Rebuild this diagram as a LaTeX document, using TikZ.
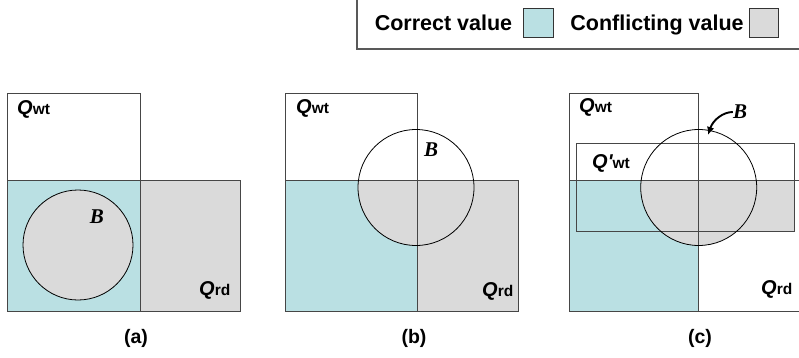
\documentclass[tikz,border=0pt]{standalone}
\usepackage{fontspec}
\setmainfont{Liberation Sans}
\newfontfamily\timesf{Liberation Serif}
\newfontfamily\rawsans{Liberation Sans}[Ligatures=ResetAll]
\usetikzlibrary{arrows.meta}
\definecolor{cyanfill}{RGB}{186,224,227}
\definecolor{grayfill}{RGB}{218,218,218}
\definecolor{edgecol}{RGB}{70,70,70}
\newcommand{\Qlab}[1]{{\fontsize{20}{20}\selectfont\bfseries\itshape Q}{\fontsize{15.5}{15.5}\selectfont\bfseries #1}}
\begin{document}
\begin{tikzpicture}[x=1pt,y=-1pt,
  box/.style={draw=edgecol,line width=0.9pt},
  circ/.style={draw=black,line width=0.8pt},
  qtext/.style={anchor=west,inner sep=0pt},
  btext/.style={inner sep=0pt,font=\timesf\fontsize{21}{21}\selectfont\bfseries\itshape},
  ptext/.style={inner sep=0pt,font=\fontsize{19.5}{19.5}\selectfont\bfseries},
  legtext/.style={inner sep=0pt,anchor=base,font=\fontsize{21.5}{21.5}\selectfont\bfseries},
  legsq/.style={draw=black!80,line width=0.9pt}]
\useasboundingbox (0,0) rectangle (799,358);
\fill[white] (0,0) rectangle (799,358);

% legend
\draw[draw=black!65,line width=1.2pt] (357,-5) -- (357,49) -- (805,49);
\node[legtext] (lc) at (443.5,31) {Correct value};
\node[legsq,fill=cyanfill,minimum width=30pt,minimum height=29pt,inner sep=0pt] (sqc) at (538,22.5) {};
\node[legtext] (lf) at (657,31) {Conflicting value};
\node[legsq,fill=grayfill,minimum width=29pt,minimum height=29pt,inner sep=0pt] (sqf) at (763.5,22.5) {};

% panel (a)
\fill[cyanfill] (7,180) rectangle (140,311);
\fill[grayfill] (140,180) rectangle (240,311);
\draw[box] (7,93) rectangle (140,180);
\draw[box] (7,180) rectangle (140,311);
\draw[box] (140,180) rectangle (240,311);
\draw[circ,fill=grayfill] (78,245) circle[radius=55];
\node[qtext] (qwa) at (17,109) {\Qlab{wt}};
\node[qtext] (qra) at (199,290) {\Qlab{rd}};
\node[btext] (ba) at (97,217) {B};
\node[ptext] (la) at (136,338) {(a)};

% panel (b)
\fill[cyanfill] (285,180) rectangle (417,311);
\fill[grayfill] (417,180) rectangle (518,311);
\begin{scope}
  \clip (285,180) rectangle (518,311);
  \fill[grayfill] (416,187.5) circle[radius=58];
\end{scope}
\draw[box] (285,93) rectangle (417,180);
\draw[box] (285,180) rectangle (417,311);
\draw[box] (417,180) rectangle (518,311);
\draw[circ] (416,187.5) circle[radius=58];
\node[qtext] (qwb) at (296,108) {\Qlab{wt}};
\node[qtext] (qrb) at (482,291) {\Qlab{rd}};
\node[btext] (bb) at (431,150) {B};
\node[ptext] (lb) at (414,338) {(b)};

% panel (c)
\fill[cyanfill] (569,180) rectangle (698,311);
\begin{scope}
  \clip (560,180) rectangle (805,320);
  \fill[grayfill] (698.7,187.5) circle[radius=58];
\end{scope}
\fill[grayfill] (698,180) rectangle (794,231);
\draw[box] (569,93) rectangle (698,180);
\draw[box] (569,180) rectangle (698,311);
\draw[box] (698,180) -- (805,180);
\draw[box] (698,311) -- (805,311);
\draw[box] (576,143) rectangle (794,231);
\draw[circ] (698.7,187.5) circle[radius=58];
\node[qtext] (qwc) at (579,107) {\Qlab{wt}};
\node[qtext] (qwpc) at (592,163) {{\rawsans\fontsize{20}{20}\selectfont\bfseries\itshape Q'}{\fontsize{15.5}{15.5}\selectfont\bfseries wt}};
\node[qtext] (qrc) at (761,289) {\Qlab{rd}};
\node[btext] (bc) at (740,112) {B};
\coordinate (bt) at (708,135);
\draw[-{Latex[length=8pt,width=7.5pt]},line width=1.9pt] (bc.west) .. controls (723,112) and (713,120) .. (bt);
\node[ptext] (lc2) at (700,338) {(c)};
\end{tikzpicture}
\end{document}
